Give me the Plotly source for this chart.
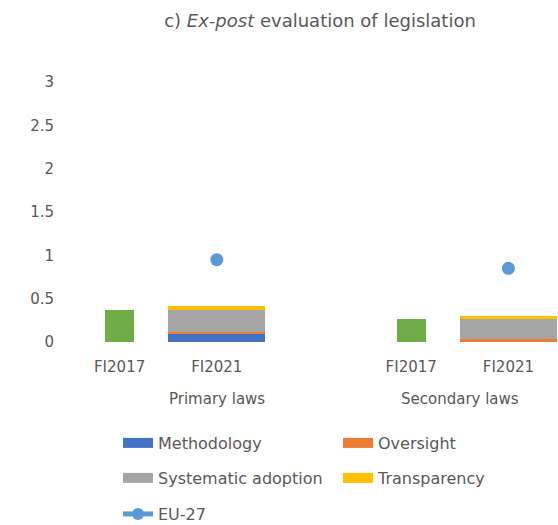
import plotly.graph_objects as go

# ---- data ----
x_ids = ["Primary laws|FI2017", "Primary laws|FI2021", "Primary laws|gap",
         "Secondary laws|FI2017", "Secondary laws|FI2021"]
tick_labels = ["FI2017", "FI2021", "", "FI2017", "FI2021"]
groups = ["Primary laws", "Secondary laws"]
group_centers = ["Primary laws|FI2021", 3.5]

fi2017 = [0.37, None, None, 0.26, None]
methodology = [None, 0.09, None, None, 0.0]
oversight = [None, 0.03, None, None, 0.04]
systematic = [None, 0.25, None, None, 0.22]
transparency = [None, 0.04, None, None, 0.04]
eu27 = [None, 0.95, None, None, 0.85]

y_ticks = [0, 0.5, 1, 1.5, 2, 2.5, 3]
y_ticktext = ["0", "0.5", "1", "1.5", "2", "2.5", "3"]

C_GREEN = "#70AD47"
C_BLUE = "#4472C4"
C_ORANGE = "#ED7D31"
C_GRAY = "#A5A5A5"
C_YELLOW = "#FFC000"
C_EU = "#5B9BD5"
TXT = "#595959"
FONT = "DejaVu Sans"

fig = go.Figure()

fig.add_trace(go.Bar(x=x_ids, y=fi2017, marker=dict(color=C_GREEN, line=dict(width=0)),
                     width=0.3, showlegend=False, name="FI2017"))
stack = [("Methodology", methodology, C_BLUE),
         ("Oversight", oversight, C_ORANGE),
         ("Systematic adoption", systematic, C_GRAY),
         ("Transparency", transparency, C_YELLOW)]
for name, vals, col in stack:
    fig.add_trace(go.Bar(x=x_ids, y=vals, marker=dict(color=col, line=dict(width=0)),
                         width=1.0, showlegend=False, name=name))

fig.add_trace(go.Scatter(x=x_ids, y=eu27, mode="lines+markers", name="EU-27",
                         line=dict(color=C_EU, width=4),
                         marker=dict(color=C_EU, size=13),
                         connectgaps=False, legend="legend3", legendwidth=60))

# legend proxies (wide colour swatches)
legend_map = ["legend", "legend", "legend2", "legend2"]
legend_w = [175, 120, 175, 120]
for (name, vals, col), lg, lw in zip(stack, legend_map, legend_w):
    fig.add_trace(go.Scatter(x=[x_ids[0]], y=[None], mode="lines", name=name,
                             line=dict(color=col, width=10),
                             legend=lg, legendwidth=lw))

leg_common = dict(orientation="h", xref="container", yref="container",
                  xanchor="left", yanchor="top", bgcolor="rgba(0,0,0,0)",
                  font=dict(family=FONT, size=16, color=TXT), traceorder="normal")
W, H = 558, 525
fig.update_layout(
    legend=dict(x=118 / W, y=1 - 426 / H, **leg_common),
    legend2=dict(x=118 / W, y=1 - 461 / H, **leg_common),
    legend3=dict(x=118 / W, y=1 - 497 / H, itemsizing="constant", **leg_common),
)

for g, c in zip(groups, group_centers):
    fig.add_annotation(x=c, y=0, xref="x", yref="y", text=g, showarrow=False,
                       yanchor="middle", yshift=-57,
                       font=dict(family=FONT, size=15, color=TXT))

fig.update_layout(
    width=W, height=H,
    barmode="stack", bargap=0,
    plot_bgcolor="white", paper_bgcolor="white",
    margin=dict(l=71, r=1, t=82, b=183),
    title=dict(text="c) <i>Ex-post</i> evaluation of legislation",
               x=320 / W, xref="container", xanchor="center",
               y=1 - 21 / H, yref="container", yanchor="middle",
               font=dict(family=FONT, size=18, color=TXT)),
    xaxis=dict(type="category", categoryorder="array", categoryarray=x_ids,
               tickvals=x_ids, ticktext=tick_labels, range=[-0.5, 4.5],
               showgrid=False, showline=False, zeroline=False, ticks="",
               ticklabelstandoff=14,
               tickfont=dict(family=FONT, size=15, color=TXT)),
    yaxis=dict(range=[0, 3], tickvals=y_ticks, ticktext=y_ticktext,
               showgrid=False, showline=False, zeroline=False, ticks="",
               ticklabelstandoff=16,
               tickfont=dict(family=FONT, size=15, color=TXT)),
)

fig.write_html("out.html", config={"displayModeBar": False},
               post_script="document.body.style.margin='0';")
